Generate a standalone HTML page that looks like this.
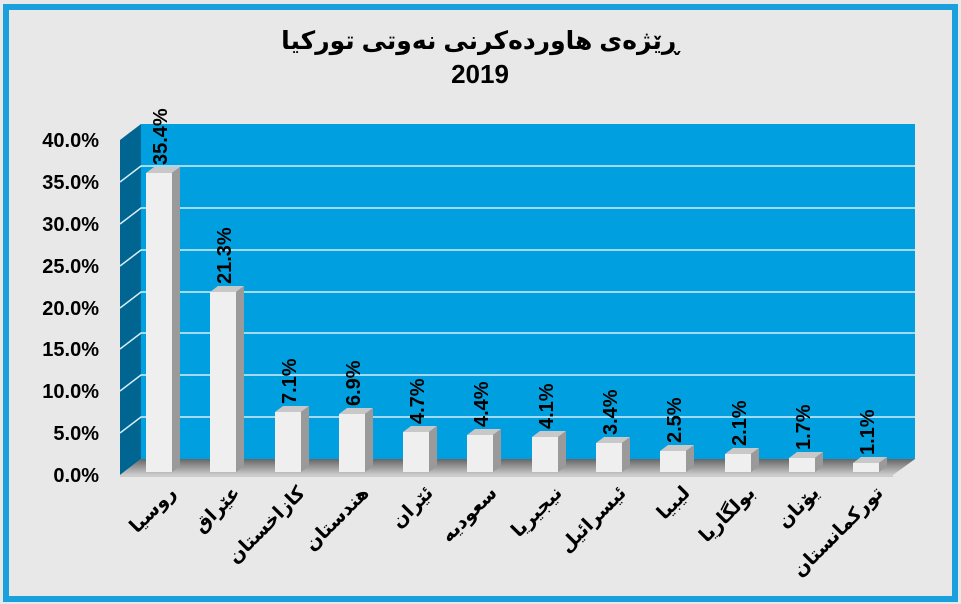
<!DOCTYPE html>
<html><head><meta charset="utf-8"><style>
body{margin:0;background:#fff}
svg{display:block}
text{font-family:"Liberation Sans","DejaVu Sans",sans-serif}
.v{font-size:20px;font-weight:bold}
.l{font-size:19px;font-weight:bold;font-family:"DejaVu Sans",sans-serif}
</style></head><body>
<svg width="961" height="604" viewBox="0 0 961 604" xmlns="http://www.w3.org/2000/svg">
<defs>
<linearGradient id="fl" x1="0" y1="0" x2="0" y2="1"><stop offset="0" stop-color="#666"/><stop offset="1" stop-color="#ccc"/></linearGradient>
</defs>
<rect x="0" y="0" width="961" height="604" fill="#e8e8e8"/>
<rect x="6" y="7" width="949" height="592" fill="none" stroke="#1aa0dc" stroke-width="6"/>
<text x="480" y="49" font-size="25" font-weight="bold" text-anchor="middle" font-family="DejaVu Sans,sans-serif">ڕێژەی هاوردەکرنی نەوتی تورکیا</text>
<text x="480" y="83" font-size="26" font-weight="bold" text-anchor="middle">2019</text>
<rect x="141" y="124" width="774" height="335" fill="#00a0e0"/>
<polygon points="120,140 141,124 141,459 120,475" fill="#006591"/>
<g stroke="#d8eef8" stroke-width="1.5" fill="none">
<polyline points="120,182 141,166 915,166"/>
<polyline points="120,224 141,208 915,208"/>
<polyline points="120,266 141,250 915,250"/>
<polyline points="120,308 141,292 915,292"/>
<polyline points="120,349 141,333 915,333"/>
<polyline points="120,391 141,375 915,375"/>
<polyline points="120,433 141,417 915,417"/>
</g>
<polygon points="120,475 141,459 915,459 893,475" fill="url(#fl)"/>
<rect x="120" y="475" width="773" height="2" fill="#ccc"/>
<g font-size="20" font-weight="bold" text-anchor="end" fill="#000">
<text x="99" y="147">40.0%</text>
<text x="99" y="189">35.0%</text>
<text x="99" y="231">30.0%</text>
<text x="99" y="273">25.0%</text>
<text x="99" y="315">20.0%</text>
<text x="99" y="356">15.0%</text>
<text x="99" y="398">10.0%</text>
<text x="99" y="440">5.0%</text>
<text x="99" y="482">0.0%</text>
</g>

<g transform="translate(146,173)"><polygon points="0,0 8,-6 34,-6 26,0" fill="#c8c8c8"/><polygon points="26,0 34,-6 34,293 26,299" fill="#9a9a9a"/><rect x="0" y="0" width="26" height="299" fill="#efefef"/><text class="v" transform="translate(21,-8) rotate(-90)">35.4%</text></g>
<g transform="translate(210,292)"><polygon points="0,0 8,-6 34,-6 26,0" fill="#c8c8c8"/><polygon points="26,0 34,-6 34,174 26,180" fill="#9a9a9a"/><rect x="0" y="0" width="26" height="180" fill="#efefef"/><text class="v" transform="translate(21,-8) rotate(-90)">21.3%</text></g>
<g transform="translate(275,412)"><polygon points="0,0 8,-6 34,-6 26,0" fill="#c8c8c8"/><polygon points="26,0 34,-6 34,54 26,60" fill="#9a9a9a"/><rect x="0" y="0" width="26" height="60" fill="#efefef"/><text class="v" transform="translate(21,-8) rotate(-90)">7.1%</text></g>
<g transform="translate(339,414)"><polygon points="0,0 8,-6 34,-6 26,0" fill="#c8c8c8"/><polygon points="26,0 34,-6 34,52 26,58" fill="#9a9a9a"/><rect x="0" y="0" width="26" height="58" fill="#efefef"/><text class="v" transform="translate(21,-8) rotate(-90)">6.9%</text></g>
<g transform="translate(403,432)"><polygon points="0,0 8,-6 34,-6 26,0" fill="#c8c8c8"/><polygon points="26,0 34,-6 34,34 26,40" fill="#9a9a9a"/><rect x="0" y="0" width="26" height="40" fill="#efefef"/><text class="v" transform="translate(21,-8) rotate(-90)">4.7%</text></g>
<g transform="translate(467,435)"><polygon points="0,0 8,-6 34,-6 26,0" fill="#c8c8c8"/><polygon points="26,0 34,-6 34,31 26,37" fill="#9a9a9a"/><rect x="0" y="0" width="26" height="37" fill="#efefef"/><text class="v" transform="translate(21,-8) rotate(-90)">4.4%</text></g>
<g transform="translate(532,437)"><polygon points="0,0 8,-6 34,-6 26,0" fill="#c8c8c8"/><polygon points="26,0 34,-6 34,29 26,35" fill="#9a9a9a"/><rect x="0" y="0" width="26" height="35" fill="#efefef"/><text class="v" transform="translate(21,-8) rotate(-90)">4.1%</text></g>
<g transform="translate(596,443)"><polygon points="0,0 8,-6 34,-6 26,0" fill="#c8c8c8"/><polygon points="26,0 34,-6 34,23 26,29" fill="#9a9a9a"/><rect x="0" y="0" width="26" height="29" fill="#efefef"/><text class="v" transform="translate(21,-8) rotate(-90)">3.4%</text></g>
<g transform="translate(660,451)"><polygon points="0,0 8,-6 34,-6 26,0" fill="#c8c8c8"/><polygon points="26,0 34,-6 34,15 26,21" fill="#9a9a9a"/><rect x="0" y="0" width="26" height="21" fill="#efefef"/><text class="v" transform="translate(21,-8) rotate(-90)">2.5%</text></g>
<g transform="translate(725,454)"><polygon points="0,0 8,-6 34,-6 26,0" fill="#c8c8c8"/><polygon points="26,0 34,-6 34,12 26,18" fill="#9a9a9a"/><rect x="0" y="0" width="26" height="18" fill="#efefef"/><text class="v" transform="translate(21,-8) rotate(-90)">2.1%</text></g>
<g transform="translate(789,458)"><polygon points="0,0 8,-6 34,-6 26,0" fill="#c8c8c8"/><polygon points="26,0 34,-6 34,8 26,14" fill="#9a9a9a"/><rect x="0" y="0" width="26" height="14" fill="#efefef"/><text class="v" transform="translate(21,-8) rotate(-90)">1.7%</text></g>
<g transform="translate(853,463)"><polygon points="0,0 8,-6 34,-6 26,0" fill="#c8c8c8"/><polygon points="26,0 34,-6 34,3 26,9" fill="#9a9a9a"/><rect x="0" y="0" width="26" height="9" fill="#efefef"/><text class="v" transform="translate(21,-8) rotate(-90)">1.1%</text></g>

<g text-anchor="end">
<text class="l" transform="translate(177,494) rotate(-45)">روسیا</text>
<text class="l" transform="translate(241,494) rotate(-45)">عێراق</text>
<text class="l" transform="translate(306,494) rotate(-45)">کازاخستان</text>
<text class="l" transform="translate(370,494) rotate(-45)">هندستان</text>
<text class="l" transform="translate(434,494) rotate(-45)">ئێران</text>
<text class="l" transform="translate(498,494) rotate(-45)">سعودیە</text>
<text class="l" transform="translate(563,494) rotate(-45)">نیجیریا</text>
<text class="l" transform="translate(627,494) rotate(-45)">ئیسرائیل</text>
<text class="l" transform="translate(691,494) rotate(-45)">لیبیا</text>
<text class="l" transform="translate(756,494) rotate(-45)">بولگاریا</text>
<text class="l" transform="translate(820,494) rotate(-45)">یۆنان</text>
<text class="l" transform="translate(884,494) rotate(-45)">تورکمانستان</text>
</g>
</svg>
</body></html>
